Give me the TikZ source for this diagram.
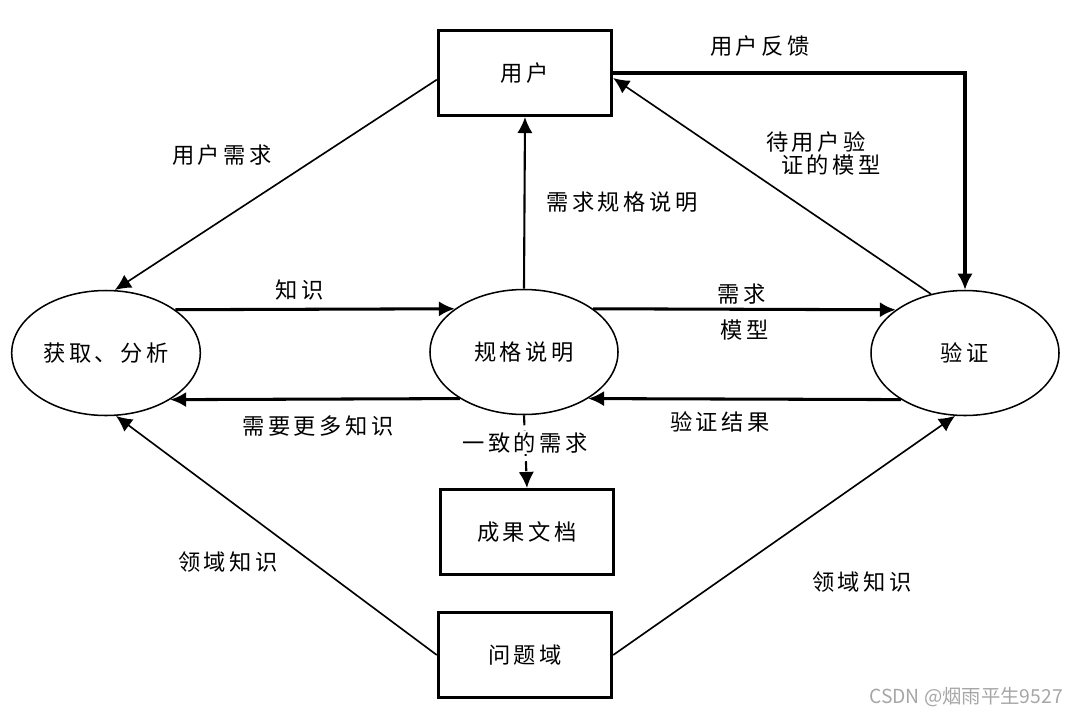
\documentclass[tikz,border=0pt]{standalone}
\usepackage{fontspec}
\newfontfamily\cjk[LetterSpace=16]{Noto Sans CJK SC}
\newfontfamily\cjkmark{Noto Sans CJK SC}
\usetikzlibrary{arrows.meta,shapes.geometric}

\begin{document}
\begin{tikzpicture}[
    x = 0.03cm, y = -0.03cm,
    font = \cjk\fontsize{19}{22}\selectfont,
    box/.style = {draw, line width = 2.6pt, minimum width = 5.2cm, minimum height = 2.55cm},
    oval/.style = {draw, ellipse, line width = 1.3pt, minimum width = 5.64cm, minimum height = 3.75cm},
    heavy/.style = {line width = 2.6pt},
    light/.style = {line width = 1.4pt},
    >={Latex[length=4.8mm, width=4.6mm]}
]
\useasboundingbox (0,0) rectangle (1080,717);
\node[box] (user) at (525,73) {用户};
\node[oval] (acquire) at (106,353) {获取、分析};
\node[oval] (spec) at (524,352) {规格说明};
\node[oval] (verify) at (965,353) {验证};
\node[box] (docs) at (527,532) {成果文档};
\node[box] (domain) at (525,655) {问题域};
% labels
\node (lUserNeed) at (222,155) {用户需求};
\node (lKnow) at (300,290) {知识};
\node (lMore) at (318,426) {需要更多知识};
\node (lSpec) at (622,202) {需求规格说明};
\node (lModelA) at (742,294) {需求};
\node (lModelB) at (745,330) {模型};
\node (lWaitA) at (816,142) {待用户验};
\node (lWaitB) at (831,165) {证的模型};
\node (lFeed) at (760,46) {用户反馈};
\node (lResult) at (720,422) {验证结果};
\node (lDomA) at (228,562) {领域知识};
\node (lDomB) at (862,582) {领域知识};
% arrows
\draw[->, light] ([yshift=-0.2cm]user.west) -- (acquire.82);
\draw[->, heavy] (acquire.32) -- (spec.148);
\draw[->, heavy] (spec.216) -- (acquire.-36);
\draw[->, line width = 1.8pt] (spec.north) -- (user.south);
\draw[->, heavy] (spec.32) -- (verify.148);
\draw[->, heavy] (verify.216) -- (spec.-36);
\draw[->, light] (verify.120) -- ([yshift=-0.15cm]user.east);
\draw[->, heavy] (user.east) -| (verify.north);
\draw[->, line width = 1.8pt, dash pattern = on 3mm off 1.6mm] (spec.south) -- (docs.north)
    node[pos = 0.38, fill = white, inner sep = 1pt] (lSame) {一致的需求};
\draw[->, light] (domain.west) -- (acquire.-81);
\draw[->, light] (domain.east) -- (verify.-99);
% watermark
\node[text = gray!70, font = \cjkmark\fontsize{16.5}{18}\selectfont] (mark) at (966,697) {CSDN @烟雨平生9527};
\end{tikzpicture}
\end{document}
